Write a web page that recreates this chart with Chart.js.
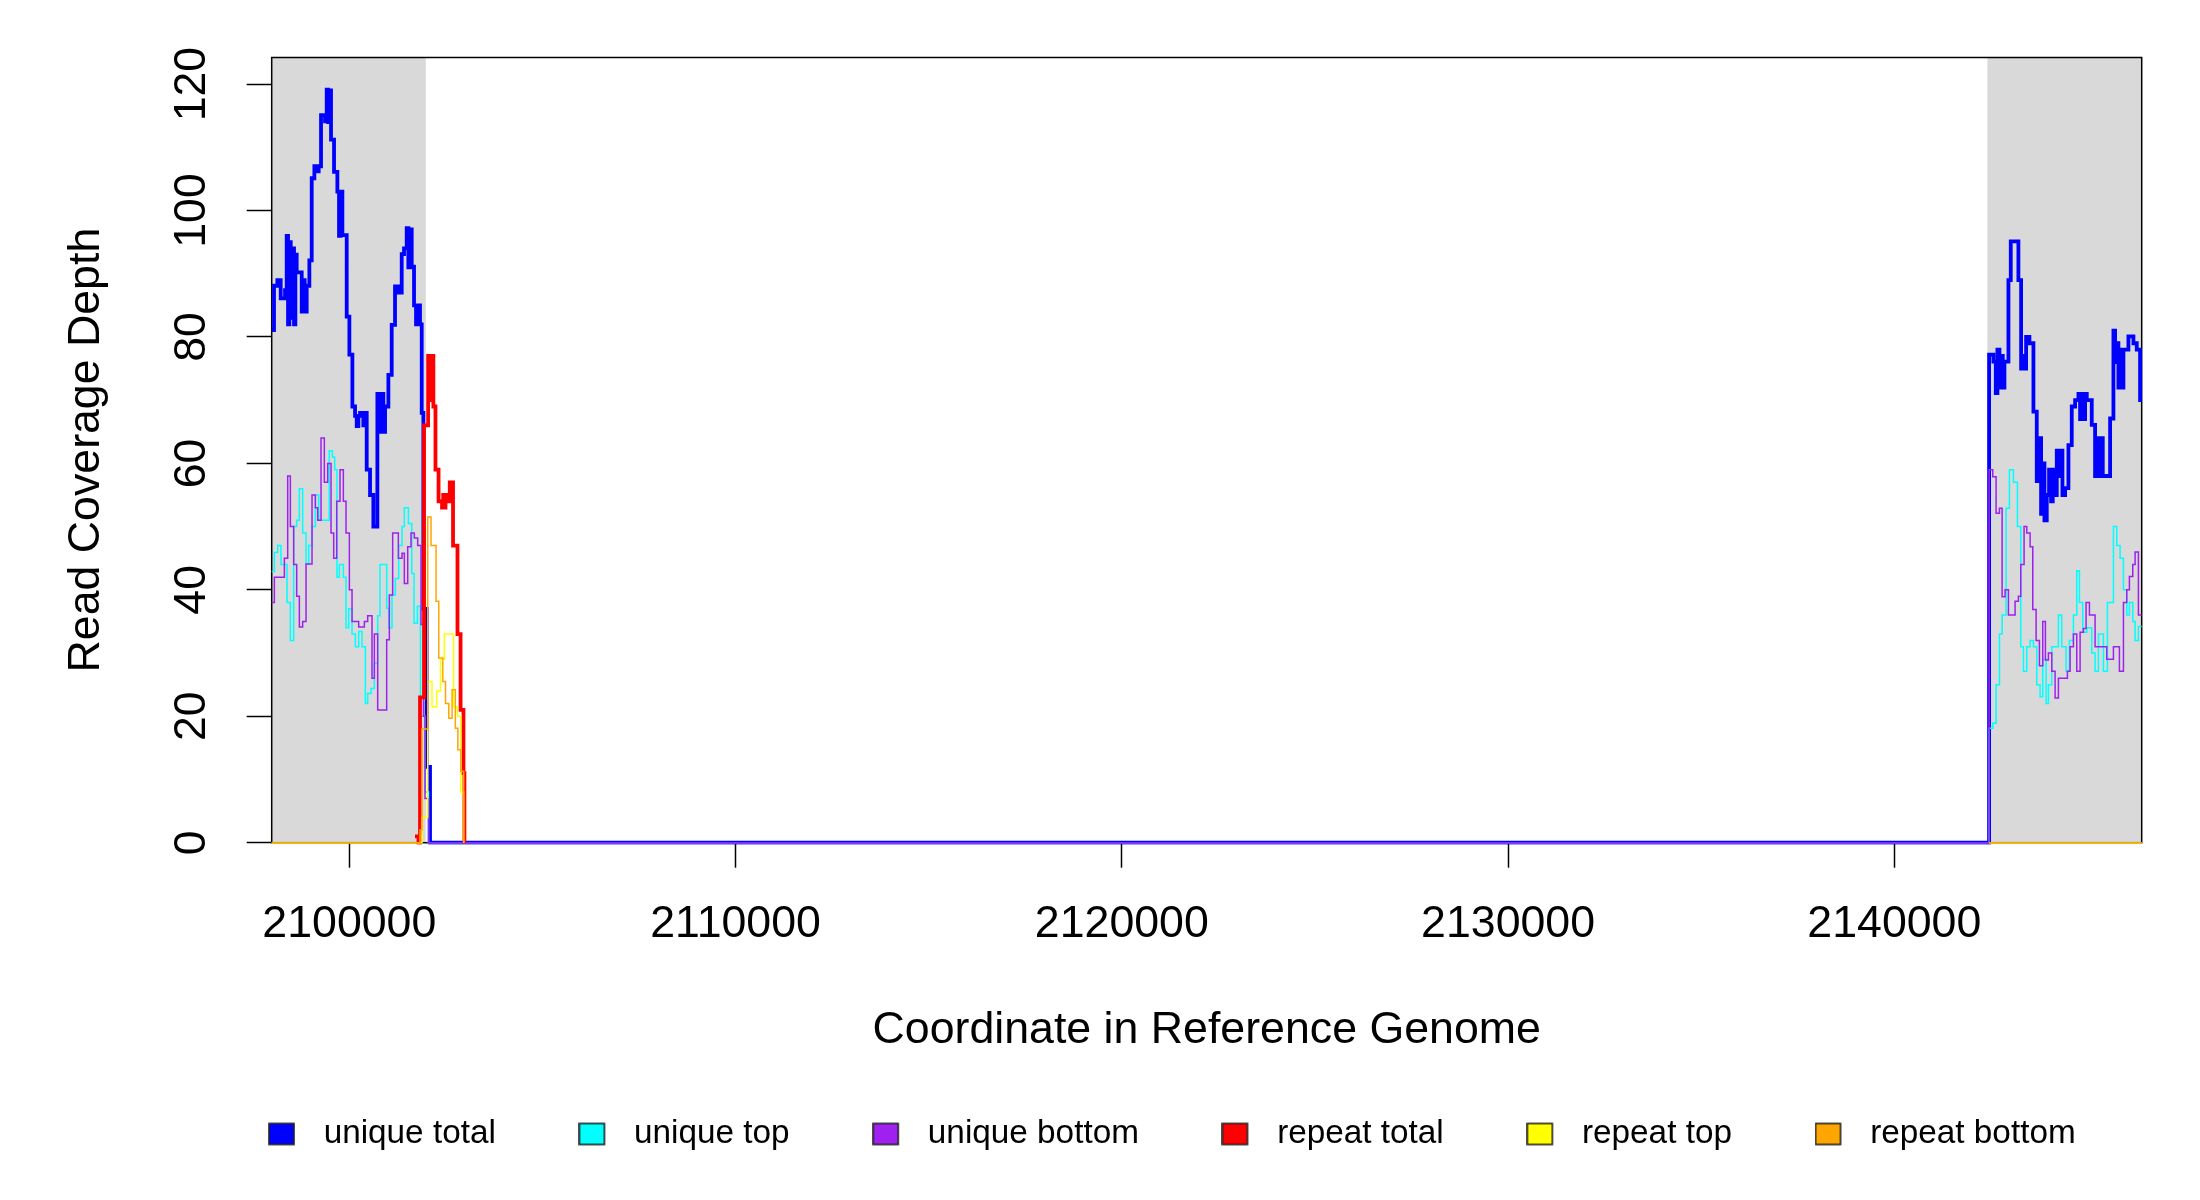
<!DOCTYPE html>
<html>
<head>
<meta charset="utf-8">
<title>Read Coverage Depth</title>
<script src="https://cdn.jsdelivr.net/npm/chart.js@4.4.0/dist/chart.umd.min.js"></script>
<style>
    html, body { margin: 0; padding: 0; background: #fff; }
    #wrap { width: 2200px; height: 1200px; }
</style>
</head>
<body>
<div id="wrap"><canvas id="chart" width="2200" height="1200"></canvas></div>
<script>
"use strict";

// ===== Data =====
const xTicks = [2100000, 2110000, 2120000, 2130000, 2140000];
const yTicks = [0, 20, 40, 60, 80, 100, 120];
const xRange = [2097990, 2146405];
const yRange = [0, 124.2];
const flankRegions = [[2097990, 2101980], [2142410, 2146405]];

const seriesNames = ['unique total', 'unique top', 'unique bottom', 'repeat total', 'repeat top', 'repeat bottom'];
const seriesColors = ['#0000FF', '#00FFFF', '#A020F0', '#FF0000', '#FFFF00', '#FFA500'];

// unique total (blue)
const uniqueTotalPos = [
    2097990, 2098050, 2098137, 2098223, 2098335, 2098378, 2098413, 2098447, 2098482, 2098525,
    2098568, 2098603, 2098637, 2098767, 2098810, 2098844, 2098896, 2098965, 2099026, 2099095,
    2099155, 2099207, 2099267, 2099371, 2099414, 2099449, 2099483, 2099526, 2099604, 2099690,
    2099733, 2099776, 2099820, 2099932, 2100001, 2100079, 2100148, 2100191, 2100234, 2100277,
    2100363, 2100406, 2100450, 2100536, 2100622, 2100726, 2100795, 2100838, 2100881, 2100925,
    2101011, 2101097, 2101183, 2101270, 2101356, 2101416, 2101485, 2101528, 2101572, 2101615,
    2101675, 2101727, 2101779, 2101830, 2101874, 2101917, 2102003, 2102089,
    2142454, 2142566, 2142627, 2142670, 2142722, 2142765, 2142808, 2142851, 2142955, 2143015,
    2143213, 2143283, 2143326, 2143369, 2143412, 2143498, 2143602, 2143688, 2143757, 2143800,
    2143843, 2143887, 2143947, 2144007, 2144059, 2144102, 2144145, 2144206, 2144258, 2144301,
    2144353, 2144422, 2144508, 2144594, 2144681, 2144767, 2144810, 2144853, 2144896, 2144940,
    2144983, 2145112, 2145198, 2145241, 2145285, 2145345, 2145397, 2145587, 2145673, 2145716,
    2145759, 2145802, 2145846, 2145889, 2145932, 2146061, 2146191, 2146277, 2146363, 2146405
];
const uniqueTotalVal = [
    81.1, 88.1, 89.0, 86.1, 87.4, 96, 82, 95, 83, 94,
    82, 93, 90.2, 84, 89, 84, 88.1, 92.1, 105.1, 107,
    106.2, 107, 115.1, 114.1, 119.1, 114, 119, 111.2, 106.1, 103,
    96, 103, 96.1, 83.2, 77.2, 69, 67.5, 65.9, 67.5, 68,
    66, 68, 59, 55, 50, 71, 65, 71, 65, 69,
    74, 81.9, 88, 87, 93.1, 94, 97.2, 91, 97, 91.1,
    85, 82, 85, 82, 68, 37, 12, 0,
    77.2, 76.1, 71.1, 78, 72, 77, 72, 76.1, 89, 95.1,
    89, 75, 77, 75, 80, 79, 68.2, 57.2, 64, 52,
    60, 51, 55, 59, 54, 59, 55, 62, 58, 62,
    55, 56.1, 62.9, 69, 70, 71, 67, 71, 67, 71,
    70, 66.1, 58, 64, 58, 64, 58, 67.1, 81, 76,
    79, 72, 78, 72, 78, 80.1, 79, 78, 70, 70
];

// unique top (cyan)
const uniqueTopPos = [
    2097990, 2098059, 2098145, 2098231, 2098387, 2098473, 2098559, 2098637, 2098706, 2098792,
    2098879, 2098948, 2099034, 2099120, 2099207, 2099480, 2099560, 2099620, 2099680, 2099742,
    2099845, 2099914, 2099983, 2100070, 2100156, 2100242, 2100328, 2100415, 2100475, 2100561,
    2100648, 2100734, 2100794, 2100967, 2101019, 2101105, 2101191, 2101278, 2101364, 2101424,
    2101529, 2101615, 2101675, 2101762, 2101840, 2101960, 2102050,
    2142454, 2142549, 2142635, 2142722, 2142791, 2142894, 2142980, 2143084, 2143188, 2143274,
    2143343, 2143429, 2143516, 2143602, 2143688, 2143774, 2143843, 2143930, 2143990, 2144077,
    2144249, 2144335, 2144448, 2144534, 2144637, 2144724, 2144793, 2144879, 2144983, 2145112,
    2145198, 2145285, 2145414, 2145518, 2145673, 2145759, 2145846, 2145932, 2146018, 2146087,
    2146174, 2146234, 2146320, 2146405
];
const uniqueTopVal = [
    42.9, 45.9, 47, 44, 38, 32, 50, 51, 56, 49,
    44.1, 47, 50, 55, 51, 62, 61, 59, 42, 44,
    42, 34, 37, 33, 31, 33.4, 31, 22, 23.6, 24.4,
    28.4, 35.9, 44, 37.1, 34, 39.2, 41.8, 47, 50, 53,
    50.5, 42.6, 34.7, 37.4, 20, 8, 0,
    18.1, 18.9, 25, 33, 36, 52.9, 59, 57, 50, 31,
    27.1, 31, 32, 31, 25, 23.1, 29, 22, 25, 31,
    36, 31, 27.1, 32, 36, 43, 38, 33.3, 34, 30,
    27.1, 33, 27.1, 38, 50, 47, 45, 40, 36, 38,
    35, 32, 34.2, 34.2
];

// unique bottom (purple)
const uniqueBottomPos = [
    2097990, 2098059, 2098318, 2098404, 2098473, 2098559, 2098637, 2098706, 2098792, 2098879,
    2099034, 2099120, 2099181, 2099267, 2099353, 2099440, 2099526, 2099595, 2099673, 2099759,
    2099845, 2099914, 2100001, 2100070, 2100242, 2100389, 2100475, 2100587, 2100648, 2100734,
    2100967, 2101036, 2101122, 2101269, 2101364, 2101424, 2101511, 2101597, 2101683, 2101770,
    2101856, 2101920, 2101960, 2102047,
    2142454, 2142549, 2142635, 2142722, 2142791, 2142868, 2142955, 2143127, 2143213, 2143274,
    2143360, 2143429, 2143516, 2143585, 2143671, 2143757, 2143843, 2143912, 2143990, 2144077,
    2144163, 2144249, 2144482, 2144551, 2144637, 2144724, 2144810, 2144896, 2144965, 2145052,
    2145198, 2145500, 2145673, 2145828, 2145932, 2146018, 2146087, 2146174, 2146234, 2146320,
    2146405
];
const uniqueBottomVal = [
    38, 42, 45, 58, 50, 44, 39, 34.1, 35, 44.1,
    55, 53, 51, 64, 57, 60, 49, 45, 54, 59,
    54, 49, 40, 35, 34.1, 35, 35.9, 26, 33, 21,
    32.1, 39.2, 49, 45, 45.8, 41, 46.8, 49, 48.2, 47,
    34.5, 20, 7, 0,
    59, 57.9, 52.1, 52.9, 38.9, 40, 36, 38.2, 39, 44,
    50, 49, 46.8, 36.9, 32, 28, 35, 28.9, 30, 27.1,
    22.9, 26, 27.1, 31, 33, 27.1, 33.3, 33.9, 38, 36,
    31, 29, 31, 27.1, 38, 40, 42.1, 44, 46, 36,
    36
];

// repeat total (red) - only the visible peak next to the left flank
const repeatTotalPos = [
    2101700, 2101790, 2101830, 2101934, 2102040, 2102075, 2102100, 2102176, 2102230,
    2102310, 2102400, 2102430, 2102460, 2102490, 2102520, 2102600, 2102685, 2102800, 2102880,
    2102955, 2102980
];
const repeatTotalVal = [
    1, 0, 23, 66, 77, 70, 77, 69, 59,
    54, 53, 55, 53, 55, 54, 57, 47, 33, 21,
    11, 0
];

// repeat top (yellow) - no repeat data between the flanks
const repeatTopPos = [
    2097990, 2101880, 2102030, 2102140, 2102262, 2102360, 2102460, 2102700, 2102800, 2102884,
    2102960, 2120000, 2142454, 2146405
];
const repeatTopVal = [
    0, 4, 25.5, 21.5, 24, 29, 33, 21.5, 20, 8,
    0, null, 0, 0
];

// repeat bottom (orange)
const repeatBottomPos = [
    2097990, 2101830, 2101880, 2102030, 2102115, 2102245, 2102315, 2102420, 2102490, 2102575,
    2102660, 2102745, 2102810, 2102884, 2102960, 2120000, 2142454, 2146405
];
const repeatBottomVal = [
    0, 2, 18, 51.5, 47, 38.2, 29.2, 25.5, 22, 19.7,
    24.2, 18.1, 14.7, 11.3, 0, null, 0, 0
];

// ===== Chart =====
const FONT = "'Liberation Sans', Arial, sans-serif";
const seriesPos = [uniqueTotalPos, uniqueTopPos, uniqueBottomPos, repeatTotalPos, repeatTopPos, repeatBottomPos];
const seriesVal = [uniqueTotalVal, uniqueTopVal, uniqueBottomVal, repeatTotalVal, repeatTopVal, repeatBottomVal];
const seriesWidth = [3.8, 1.5, 1.5, 3.8, 1.5, 1.5];

const datasets = seriesNames.map((name, i) => ({
    label: name,
    data: seriesPos[i].map((x, k) => ({ x, y: seriesVal[i][k] })),
    borderColor: seriesColors[i],
    backgroundColor: seriesColors[i],
    borderWidth: seriesWidth[i],
    stepped: true,
    fill: false,
    spanGaps: false,
    pointRadius: 0,
    clip: 2,
    // later series are painted on top, like the original plot
    order: seriesNames.length - i
}));

// legend swatch: small bordered square at the left of a wider slot
function swatch(color) {
    const c = document.createElement('canvas');
    c.width = 39;
    c.height = 33;
    const g = c.getContext('2d');
    g.fillStyle = color;
    g.fillRect(1, 6, 25, 21);
    g.strokeStyle = '#222';
    g.lineWidth = 1.6;
    g.strokeRect(1, 6, 25, 21);
    return c;
}

const flankShade = {
    id: 'flankShade',
    beforeDatasetsDraw(chart) {
        const { ctx, chartArea: a, scales: { x } } = chart;
        ctx.save();
        ctx.fillStyle = '#D9D9D9';
        flankRegions.forEach(([s, e]) => {
            const x1 = x.getPixelForValue(s);
            const x2 = x.getPixelForValue(e);
            ctx.fillRect(x1, a.top, x2 - x1, a.bottom - a.top);
        });
        ctx.strokeStyle = '#000';
        ctx.lineWidth = 1.5;
        ctx.strokeRect(a.left, a.top, a.right - a.left, a.bottom - a.top);
        ctx.restore();
    }
};

// move the legend row under the plot like the R legend
const legendPlace = {
    id: 'legendPlace',
    afterLayout(chart) {
        const lg = chart.legend;
        if (!lg || !lg.lineWidths) return;
        const pad = lg.options.labels.padding;
        const x0 = (lg.left + pad + lg.right - lg.lineWidths[0]) / 2;
        const dx = 268 - x0;
        const dy = 1134 - (lg.top + pad + 33.3 / 2);
        lg.left += dx; lg.right += dx;
        lg.top += dy; lg.bottom += dy;
    }
};

new Chart(document.getElementById('chart'), {
    type: 'line',
    data: { datasets },
    options: {
        responsive: false,
        animation: false,
        devicePixelRatio: 1,
        layout: { padding: { left: 0, top: 57.5, right: 58.3, bottom: 0 } },
        scales: {
            x: {
                type: 'linear',
                position: 'bottom',
                min: xRange[0],
                max: xRange[1],
                afterBuildTicks: (s) => { s.ticks = xTicks.map((v) => ({ value: v })); },
                afterFit: (s) => { s.height = 231.4; },
                grid: { drawOnChartArea: false, drawTicks: true, tickLength: 25, tickColor: '#000', tickWidth: 1.5 },
                border: { display: false },
                ticks: {
                    autoSkip: false, maxRotation: 0, padding: 30.2,
                    color: '#000', font: { family: FONT, size: 44.7 },
                    callback: (v) => String(v)
                },
                title: {
                    display: true, text: 'Coordinate in Reference Genome',
                    color: '#000', font: { family: FONT, size: 44.7 },
                    padding: { top: 0, bottom: 16.6 }
                }
            },
            y: {
                type: 'linear',
                position: 'left',
                min: yRange[0],
                max: yRange[1],
                afterBuildTicks: (s) => { s.ticks = yTicks.map((v) => ({ value: v })); },
                afterFit: (s) => { s.width = 271.7; },
                grid: { drawOnChartArea: false, drawTicks: true, tickLength: 25, tickColor: '#000', tickWidth: 1.5 },
                border: { display: false },
                ticks: {
                    autoSkip: false, minRotation: 90, maxRotation: 90,
                    crossAlign: 'center', padding: 16.5,
                    color: '#000', font: { family: FONT, size: 44.7 },
                    callback: (v) => String(v)
                },
                title: {
                    display: true, text: 'Read Coverage Depth',
                    color: '#000', font: { family: FONT, size: 44.7 },
                    padding: { top: 60, bottom: 0 }
                }
            }
        },
        plugins: {
            tooltip: { enabled: false },
            legend: {
                position: 'bottom',
                labels: {
                    usePointStyle: true,
                    pointStyleWidth: 39,
                    padding: 82.6,
                    color: '#000',
                    font: { family: FONT, size: 33.3 },
                    sort: (a, b) => a.datasetIndex - b.datasetIndex,
                    generateLabels: (chart) => chart.data.datasets.map((ds, i) => ({
                        text: ds.label,
                        datasetIndex: i,
                        pointStyle: swatch(ds.borderColor),
                        fillStyle: ds.borderColor,
                        strokeStyle: '#000',
                        fontColor: '#000',
                        lineWidth: 0,
                        hidden: false
                    }))
                }
            }
        }
    },
    plugins: [flankShade, legendPlace]
});
</script>
</body>
</html>
